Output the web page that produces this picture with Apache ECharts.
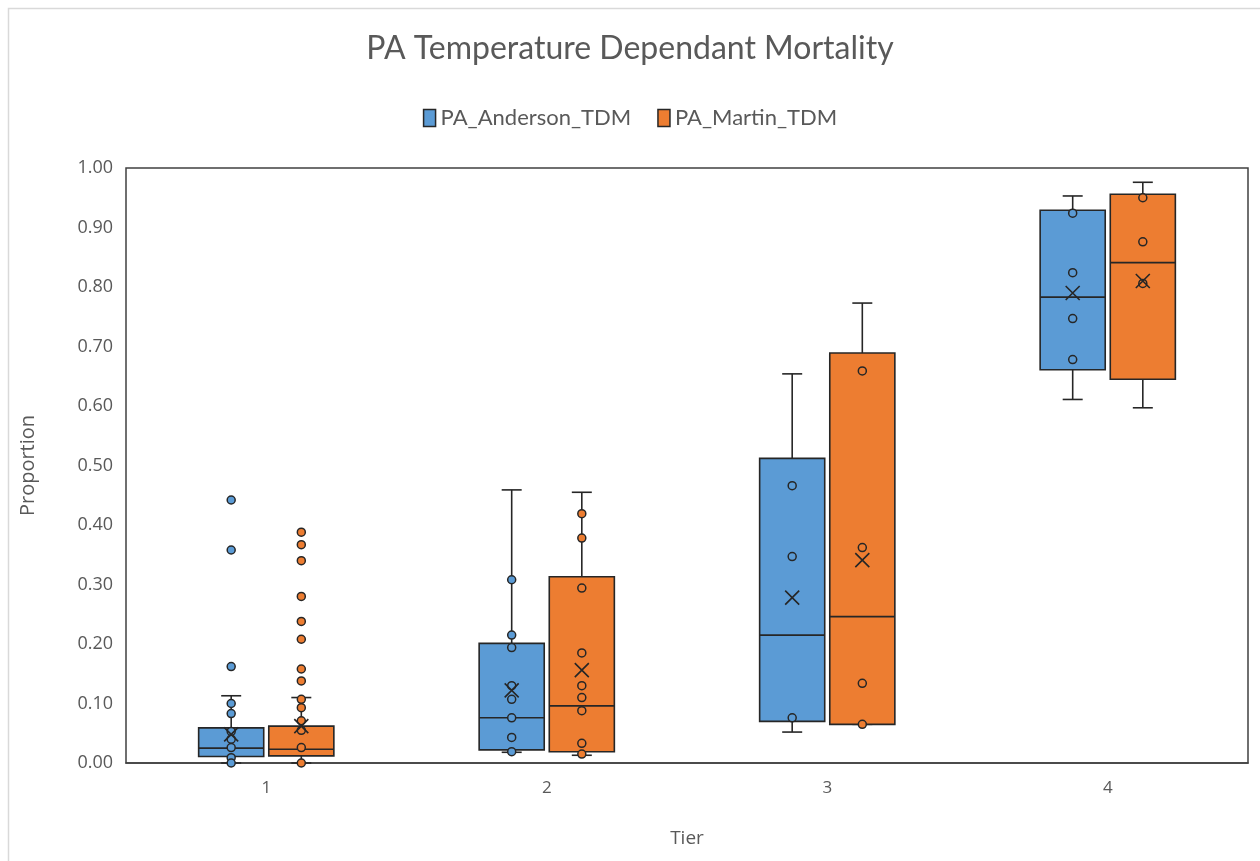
<!DOCTYPE html>
<html>
<head>
<meta charset="UTF-8"/>
<title>PA Temperature Dependant Mortality</title>
<script src="https://cdn.jsdelivr.net/npm/echarts@6/dist/echarts.min.js"></script>
<style>
  html, body { margin: 0; padding: 0; background: #fff; }
  #chart { width: 1260px; height: 861px; }
</style>
</head>
<body>
<div id="chart"></div>
<script type="text/javascript">

    var tiers = ['1', '2', '3', '4'];

    // [min, q1, median, q3, max] per tier
    var andersonBox = [
        [0.000, 0.011, 0.025, 0.059, 0.113],
        [0.018, 0.022, 0.076, 0.201, 0.459],
        [0.052, 0.070, 0.215, 0.512, 0.654],
        [0.611, 0.661, 0.783, 0.929, 0.953]
    ];
    var martinBox = [
        [0.000, 0.012, 0.023, 0.062, 0.110],
        [0.013, 0.019, 0.096, 0.313, 0.455],
        [0.065, 0.065, 0.246, 0.689, 0.773],
        [0.597, 0.645, 0.841, 0.956, 0.976]
    ];

    var andersonMean = [0.048, 0.122, 0.278, 0.790];
    var martinMean = [0.062, 0.156, 0.341, 0.810];

    var andersonPoints = [
        [0.442, 0.358, 0.162, 0.100, 0.083, 0.053, 0.040, 0.026, 0.009, 0.000],
        [0.308, 0.215, 0.194, 0.130, 0.107, 0.076, 0.043, 0.019],
        [0.466, 0.347, 0.076],
        [0.924, 0.824, 0.747, 0.678]
    ];
    var martinPoints = [
        [0.388, 0.367, 0.340, 0.280, 0.238, 0.208, 0.158, 0.138, 0.107, 0.093, 0.071, 0.055, 0.026, 0.000],
        [0.419, 0.378, 0.294, 0.185, 0.130, 0.110, 0.088, 0.033, 0.015],
        [0.659, 0.362, 0.134, 0.065],
        [0.950, 0.876, 0.806]
    ];

    var BLUE = '#5B9BD5';
    var ORANGE = '#ED7D31';
    var INK = '#262626';
    var OFFSET = 0.125;     // box centre shift from the tier centre (in tier units)
    var HALF = 0.116;       // half box width (in tier units)

    var chart = echarts.init(document.getElementById('chart'));

    var boxData = function(list, shift) {
        var out = [];
        for (var i = 0; i < list.length; i++) {
            out.push([i + 1 + shift].concat(list[i]));
        }
        return out;
    };
    var pointData = function(list, shift) {
        var out = [];
        for (var i = 0; i < list.length; i++) {
            for (var j = 0; j < list[i].length; j++) {
                out.push([i + 1 + shift, list[i][j]]);
            }
        }
        return out;
    };
    var meanData = function(list, shift) {
        var out = [];
        for (var i = 0; i < list.length; i++) {
            out.push([i + 1 + shift, list[i]]);
        }
        return out;
    };

    var renderBox = function(params, api) {
        var x = api.value(0);
        var lo = api.coord([x, api.value(1)]);
        var q1 = api.coord([x, api.value(2)]);
        var md = api.coord([x, api.value(3)]);
        var q3 = api.coord([x, api.value(4)]);
        var hi = api.coord([x, api.value(5)]);
        var half = api.size([HALF, 0])[0];
        var cap = 10;
        var cx = lo[0];
        var line = { stroke: INK, lineWidth: 1.6 };
        return {
            type: 'group',
            children: [
                { type: 'line', shape: { x1: cx, y1: hi[1], x2: cx, y2: q3[1] }, style: line },
                { type: 'line', shape: { x1: cx, y1: q1[1], x2: cx, y2: lo[1] }, style: line },
                { type: 'line', shape: { x1: cx - cap, y1: hi[1], x2: cx + cap, y2: hi[1] }, style: line },
                { type: 'line', shape: { x1: cx - cap, y1: lo[1], x2: cx + cap, y2: lo[1] }, style: line },
                {
                    type: 'rect',
                    shape: { x: cx - half, y: q3[1], width: half * 2, height: q1[1] - q3[1] },
                    style: { fill: api.visual('color'), stroke: INK, lineWidth: 1.6 }
                },
                { type: 'line', shape: { x1: cx - half, y1: md[1], x2: cx + half, y2: md[1] }, style: line }
            ]
        };
    };

    var cross = 'path://M0,0L10,10M10,0L0,10';

    chart.setOption({
        animation: false,
        title: {
            text: 'PA Temperature Dependant Mortality',
            left: 'center',
            top: 28,
            textStyle: {
                fontFamily: 'Lato',
                fontWeight: 'normal',
                fontSize: 32,
                color: '#595959'
            }
        },
        legend: {
            data: [
                { name: 'PA_Anderson_TDM', itemStyle: { color: BLUE, borderColor: INK, borderWidth: 1.5 } },
                { name: 'PA_Martin_TDM', itemStyle: { color: ORANGE, borderColor: INK, borderWidth: 1.5 } }
            ],
            top: 102,
            left: 'center',
            icon: 'rect',
            itemWidth: 12,
            itemHeight: 17,
            itemGap: 26,
            textStyle: {
                fontFamily: 'Lato',
                fontSize: 22,
                color: '#595959'
            }
        },
        grid: {
            left: 126,
            right: 12,
            top: 168,
            bottom: 98,
            show: true,
            borderColor: '#404040',
            borderWidth: 1.5
        },
        xAxis: [
            {
                type: 'category',
                data: tiers,
                name: 'Tier',
                nameLocation: 'middle',
                nameGap: 66,
                nameTextStyle: { fontFamily: 'Open Sans', fontSize: 19, color: '#595959' },
                axisTick: { show: false },
                axisLine: { lineStyle: { color: '#404040', width: 1.5 } },
                axisLabel: { margin: 17, fontFamily: 'Open Sans', fontSize: 17, color: '#595959' },
                splitLine: { show: false }
            },
            {
                type: 'value',
                min: 0.5,
                max: 4.5,
                show: false,
                splitLine: { show: false }
            }
        ],
        yAxis: {
            type: 'value',
            min: 0,
            max: 1,
            interval: 0.1,
            name: 'Proportion',
            nameLocation: 'middle',
            nameGap: 88,
            nameTextStyle: { fontFamily: 'Open Sans', fontSize: 20, color: '#595959' },
            axisLine: { show: false },
            axisTick: { show: false },
            splitLine: { show: false },
            axisLabel: {
                margin: 13,
                fontFamily: 'Open Sans',
                fontSize: 18,
                color: '#595959',
                formatter: function(v) { return v.toFixed(2); }
            }
        },
        graphic: [
            {
                type: 'polyline',
                shape: { points: [[8.5, 861], [8.5, 8.5], [1260, 8.5]] },
                style: { stroke: '#d9d9d9', lineWidth: 1.5, fill: null },
                silent: true
            }
        ],
        series: [
            {
                name: 'PA_Anderson_TDM',
                type: 'custom',
                xAxisIndex: 1,
                itemStyle: { color: BLUE },
                encode: { x: 0, y: [1, 2, 3, 4, 5] },
                renderItem: renderBox,
                data: boxData(andersonBox, -OFFSET),
                z: 2
            },
            {
                name: 'PA_Martin_TDM',
                type: 'custom',
                xAxisIndex: 1,
                itemStyle: { color: ORANGE },
                encode: { x: 0, y: [1, 2, 3, 4, 5] },
                renderItem: renderBox,
                data: boxData(martinBox, OFFSET),
                z: 2
            },
            {
                name: 'Anderson points',
                type: 'scatter',
                xAxisIndex: 1,
                symbolSize: 8,
                itemStyle: { color: BLUE, borderColor: INK, borderWidth: 1.5, opacity: 1 },
                data: pointData(andersonPoints, -OFFSET),
                z: 3
            },
            {
                name: 'Martin points',
                type: 'scatter',
                xAxisIndex: 1,
                symbolSize: 8,
                itemStyle: { color: ORANGE, borderColor: INK, borderWidth: 1.5, opacity: 1 },
                data: pointData(martinPoints, OFFSET),
                z: 3
            },
            {
                name: 'Anderson mean',
                type: 'scatter',
                xAxisIndex: 1,
                symbol: cross,
                symbolSize: 14,
                itemStyle: { color: 'none', borderColor: INK, borderWidth: 1.6, opacity: 1 },
                data: meanData(andersonMean, -OFFSET),
                z: 4
            },
            {
                name: 'Martin mean',
                type: 'scatter',
                xAxisIndex: 1,
                symbol: cross,
                symbolSize: 14,
                itemStyle: { color: 'none', borderColor: INK, borderWidth: 1.6, opacity: 1 },
                data: meanData(martinMean, OFFSET),
                z: 4
            }
        ]
    });
</script>
</body>
</html>
